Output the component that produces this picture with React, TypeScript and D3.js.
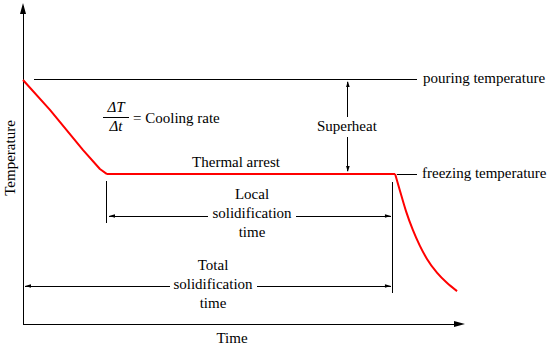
import React from "react";
import * as d3 from "d3";

// ---- data (time in arbitrary units 0..100, temperature in arbitrary units 0..100)
const curveTime = [0, 6.1, 13.6, 17.4, 19.0, 84.2, 85.3, 86.65, 88.2, 89.8, 91.4, 93.7, 95.9, 98.2];
const curveTemp = [76.5, 67.1, 54.5, 48.6, 47.0, 47.0, 41.7, 35.4, 29.5, 24.5, 20.4, 16.0, 12.9, 10.3];
const pieceBreaks = [0, 4, 5, 13]; // cooling | thermal arrest | solid cooling

const pouringTemp = 76.8;
const freezingTemp = 47.0;
const pouringLine = [2.5, 89.1];
const freezingLine = [84.6, 89.1];
const superheatTime = 73.5;
const arrestStart = 19.0;
const solidEnd = 83.7;

const labels = {
  pouring: "pouring temperature",
  freezing: "freezing temperature",
  superheat: "Superheat",
  arrest: "Thermal arrest",
  cooling: "= Cooling rate",
  local: ["Local", "solidification", "time"],
  total: ["Total", "solidification", "time"],
  xTitle: "Time",
  yTitle: "Temperature",
};

const W = 551;
const H = 349;
const FONT = "Liberation Serif, DejaVu Serif, Times New Roman, serif";

const x = d3.scaleLinear().domain([0, 100]).range([23, 465]);
const y = d3.scaleLinear().domain([0, 100]).range([324, 5]);

function arrowHead(tx: number, ty: number, dir: "up" | "down" | "left" | "right", len = 6, hw = 2) {
  let p: [number, number][];
  if (dir === "up") p = [[tx, ty], [tx - hw, ty + len], [tx + hw, ty + len]];
  else if (dir === "down") p = [[tx, ty], [tx - hw, ty - len], [tx + hw, ty - len]];
  else if (dir === "left") p = [[tx, ty], [tx + len, ty - hw], [tx + len, ty + hw]];
  else p = [[tx, ty], [tx - len, ty - hw], [tx - len, ty + hw]];
  return "M" + p.map((q) => q.join(",")).join("L") + "Z";
}

function T(props: any) {
  return <text fontFamily={FONT} fontSize={15} fill="#000" {...props} />;
}

export default function App() {
  const pts = curveTime.map((t, i) => [t, curveTemp[i]] as [number, number]);
  const straight = d3
    .line<[number, number]>()
    .x((d) => x(d[0]))
    .y((d) => y(d[1]));
  const smooth = straight.curve(d3.curveMonotoneX);
  const curves = [d3.curveLinear, d3.curveLinear, d3.curveMonotoneX];
  const pieces: { p: [number, number][]; c: any }[] = [];
  for (let i = 0; i < pieceBreaks.length - 1; i++) {
    pieces.push({ p: pts.slice(pieceBreaks[i], pieceBreaks[i + 1] + 1), c: curves[i] });
  }
  void smooth;

  const x0 = x(0);
  const y0 = y(0);
  const xEnd = x(100);
  const yP = y(pouringTemp);
  const yF = y(freezingTemp);
  const xS = x(superheatTime);
  const xA = x(arrestStart);
  const xE = x(solidEnd);

  const localY = 216;
  const totalY = 286;

  return (
    <svg width={W} height={H} style={{ position: "absolute", left: 0, top: 0, background: "#fff" }}>
      {/* axes */}
      <line x1={x0} y1={y0} x2={x0} y2={6} stroke="#000" strokeWidth={1} shapeRendering="crispEdges" />
      <path d={arrowHead(x0, 3, "up", 11, 3)} fill="#000" />
      <line x1={x0} y1={y0} x2={xEnd - 4} y2={y0} stroke="#000" strokeWidth={1} shapeRendering="crispEdges" />
      <path d={arrowHead(xEnd, y0, "right", 11, 3)} fill="#000" />

      {/* pouring & freezing reference lines */}
      <line x1={x(pouringLine[0])} y1={yP} x2={x(pouringLine[1])} y2={yP} stroke="#000" strokeWidth={1} shapeRendering="crispEdges" />
      <line x1={x(freezingLine[0])} y1={yF} x2={x(freezingLine[1])} y2={yF} stroke="#000" strokeWidth={1} shapeRendering="crispEdges" />
      <T x={423} y={83}>{labels.pouring}</T>
      <T x={422} y={178}>{labels.freezing}</T>

      {/* superheat arrow */}
      <line x1={xS} y1={yP + 3} x2={xS} y2={117} stroke="#000" strokeWidth={1} shapeRendering="crispEdges" />
      <line x1={xS} y1={137} x2={xS} y2={yF - 3} stroke="#000" strokeWidth={1} shapeRendering="crispEdges" />
      <path d={arrowHead(xS, yP + 2, "up", 6, 1.8)} fill="#000" />
      <path d={arrowHead(xS, yF - 2, "down", 6, 1.8)} fill="#000" />
      <T x={xS - 1} y={131} textAnchor="middle">{labels.superheat}</T>

      {/* cooling curve */}
      {pieces.map((pc, i) => (
        <path
          key={i}
          d={straight.curve(pc.c)(pc.p) || ""}
          fill="none"
          stroke="#ff0000"
          strokeWidth={2}
          strokeLinejoin="round"
        />
      ))}
      <T x={236} y={167} textAnchor="middle">{labels.arrest}</T>

      {/* cooling rate */}
      <T x={116} y={112} textAnchor="middle" fontStyle="italic">ΔT</T>
      <line x1={103} y1={117.5} x2={129} y2={117.5} stroke="#000" strokeWidth={1} />
      <T x={116} y={131} textAnchor="middle" fontStyle="italic">Δt</T>
      <T x={133} y={123}>{labels.cooling}</T>

      {/* local solidification time */}
      <line x1={xA} y1={181} x2={xA} y2={223} stroke="#000" strokeWidth={1} shapeRendering="crispEdges" />
      <line x1={xE} y1={182} x2={xE} y2={293} stroke="#000" strokeWidth={1} shapeRendering="crispEdges" />
      <line x1={xA + 2} y1={localY} x2={208} y2={localY} stroke="#000" strokeWidth={1} shapeRendering="crispEdges" />
      <line x1={296} y1={localY} x2={xE - 2} y2={localY} stroke="#000" strokeWidth={1} shapeRendering="crispEdges" />
      <path d={arrowHead(xA + 2, localY, "left", 6, 1.8)} fill="#000" />
      <path d={arrowHead(xE - 2, localY, "right", 6, 1.8)} fill="#000" />
      {labels.local.map((s, i) => (
        <T key={s} x={252} y={199 + i * 19} textAnchor="middle">{s}</T>
      ))}

      {/* total solidification time */}
      <line x1={x0 + 2} y1={totalY} x2={170} y2={totalY} stroke="#000" strokeWidth={1} shapeRendering="crispEdges" />
      <line x1={257} y1={totalY} x2={xE - 2} y2={totalY} stroke="#000" strokeWidth={1} shapeRendering="crispEdges" />
      <path d={arrowHead(x0 + 2, totalY, "left", 6, 1.8)} fill="#000" />
      <path d={arrowHead(xE - 2, totalY, "right", 6, 1.8)} fill="#000" />
      {labels.total.map((s, i) => (
        <T key={s + i} x={213} y={270 + i * 19} textAnchor="middle">{s}</T>
      ))}

      {/* axis titles */}
      <T x={232} y={343} textAnchor="middle">{labels.xTitle}</T>
      <T transform="translate(15,158) rotate(-90)" textAnchor="middle">{labels.yTitle}</T>
    </svg>
  );
}
